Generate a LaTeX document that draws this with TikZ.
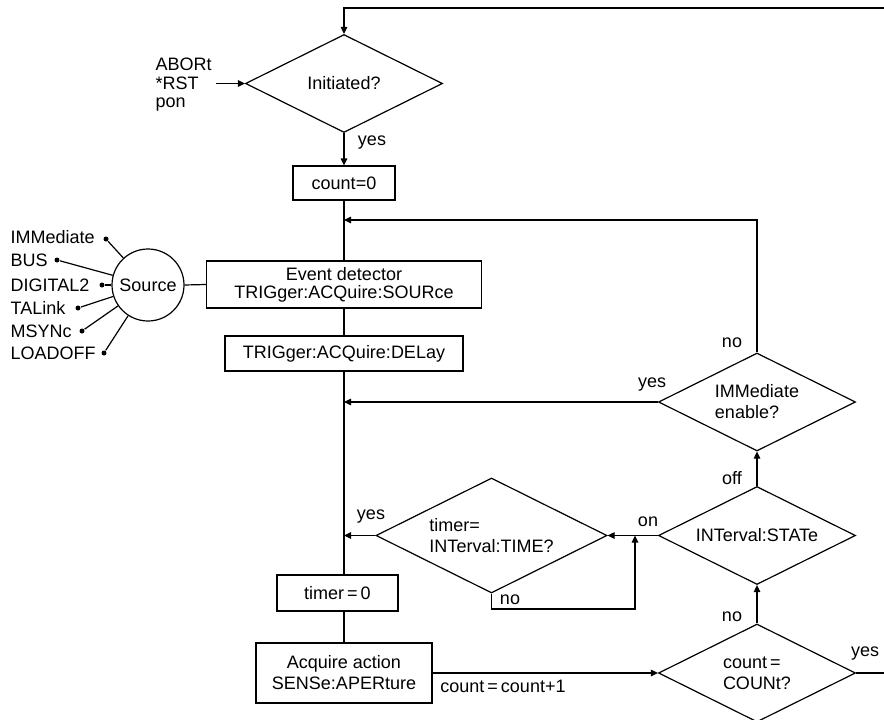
\documentclass[tikz,border=0pt]{standalone}
\usepackage{fontspec}
\setmainfont{Liberation Sans}
\usetikzlibrary{shapes.geometric,arrows.meta}
\begin{document}
\begin{tikzpicture}[x=1pt,y=-1pt,
  line width=1.2pt,
  every node/.style={font=\fontsize{18}{21}\selectfont, inner sep=0pt},
  box/.style={draw, rectangle, align=center},
  dia/.style={draw, diamond, minimum width=197pt, minimum height=98pt},
  arr/.style={-{Triangle[length=7pt,width=6.5pt]}},
  dotn/.style={circle, fill, minimum size=5pt},
  srclbl/.style={anchor=west},
]
\useasboundingbox (0,0) rectangle (884,720);

% decision nodes
\node[dia, label={center:Initiated?}] (ini) at (344,83.5) {};
\node[dia, label={[align=left]center:{IMMediate\\enable?}}] (imm) at (757,402) {};
\node[dia, label={center:INTerval:STATe}] (int) at (757,535.5) {};
\node[dia, minimum width=231pt, minimum height=115pt,
      label={[align=left]center:{timer=\\INTerval:TIME?}}] (tim) at (491.5,535.5) {};
\node[dia, label={[align=left]center:{count\,=\\COUNt?}}] (cnt) at (757,673) {};

% boxes
\node[box, minimum width=102pt, minimum height=34pt] (cnt0) at (344,183) {count=0};
\node[box, minimum width=275pt, minimum height=47pt, font=\fontsize{18}{18}\selectfont] (evt) at (344,284.5) {Event detector\\TRIGger:ACQuire:SOURce};
\node[box, minimum width=238pt, minimum height=35pt] (dly) at (344,353.5) {TRIGger:ACQuire:DELay};
\node[box, minimum width=121pt, minimum height=36pt] (tmr0) at (337.5,593) {timer\,=\,0};
\node[box, minimum width=176pt, minimum height=60pt] (acq) at (344,673) {Acquire action\\SENSe:APERture};

% inputs
\node[anchor=west, align=left, font=\fontsize{18}{18.5}\selectfont] (abt) at (155,85) {ABORt\\*RST\\pon};
\coordinate (abtarr) at (216,83.5);
\draw[arr] (abtarr) -- (ini.west);

% source
\node[draw, circle, minimum size=72pt] (src) at (148,285) {Source};
\draw (src.east) -- (evt.west);
\node[srclbl] (s1) at (10,237) {IMMediate};
\node[srclbl] (s2) at (10,260) {BUS};
\node[srclbl] (s3) at (10,285) {DIGITAL2};
\node[srclbl] (s4) at (10,308) {TALink};
\node[srclbl] (s5) at (10,331) {MSYNc};
\node[srclbl] (s6) at (10,353) {LOADOFF};
\node[dotn] (d1) at (106,239) {};
\node[dotn] (d2) at (57,260) {};
\node[dotn] (d3) at (102,285) {};
\node[dotn] (d4) at (78,308) {};
\node[dotn] (d5) at (82,331) {};
\node[dotn] (d6) at (104,353) {};
\foreach \d in {d1,d2,d3,d4,d5,d6} \draw (\d) -- (src);

% main line
\draw[arr] (ini.south) -- (cnt0.north);
\draw (cnt0.south) -- (evt.north);
\draw (evt.south) -- (dly.north);
\draw (dly.south) -- (dly.south |- tmr0.north);
\draw (acq.north |- tmr0.south) -- (acq.north);

% junctions on main line
\coordinate (j1) at (344,220);
\coordinate (j2) at (344,402);
\coordinate (j3) at (344,535.5);
\draw[arr] (imm.north) |- (j1);
\draw[arr] (imm.west) -- (j2);
\draw[arr] (tim.west) -- (j3);

% right-hand flow
\draw[arr] (acq.east) -- (cnt.west);
\draw[arr] (cnt.north) -- (int.south);
\draw[arr] (int.north) -- (imm.south);
\draw[arr] (int.west) -- (tim.east);
\coordinate (lp) at (635,535.5);
\draw[arr] (tim.south) -- (tim.south |- 0,609) -| (lp);

% outer loop
\coordinate (rt) at (884,8);
\draw[arr] (rt) -| (ini.north);
\coordinate (rb) at (884,673);
\draw (cnt.east) -- (rb);

% labels
\node (l1) at (372,143) {yes};
\node (l2) at (732,343) {no};
\node (l3) at (652,385) {yes};
\node (l4) at (732,478) {off};
\node (l5) at (648,522) {on};
\node (l6) at (371,517) {yes};
\node (l7) at (510,600) {no};
\node (l8) at (732,617) {no};
\node (l9) at (865,654) {yes};
\node (l10) at (503,686) {count\,=\,count+1};
\end{tikzpicture}
\end{document}
